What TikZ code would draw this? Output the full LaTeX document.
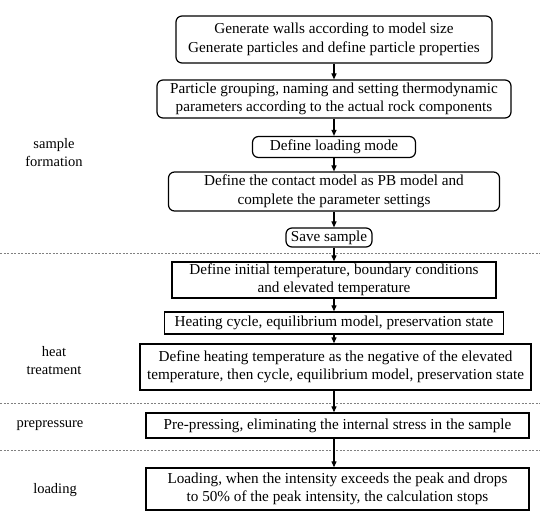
\documentclass[tikz,border=0pt]{standalone}
\usepackage{fontspec}
\setmainfont{Liberation Serif}
\usetikzlibrary{arrows.meta}
\begin{document}
\begin{tikzpicture}[x=1pt,y=-1pt,
  every node/.style={font=\fontsize{15.2}{18.5}\selectfont, align=center, inner sep=0pt},
  rbox/.style={draw, line width=1.2pt, rounded corners=6pt},
  sbox/.style={draw, line width=1.3pt},
  arr/.style={line width=1.1pt, -{Triangle[length=6pt,width=5pt]}},
  sep/.style={draw=gray, line width=0.7pt, dash pattern=on 2pt off 1.5pt},
  lab/.style={font=\fontsize{14.5}{18}\selectfont}]
\useasboundingbox (0,0) rectangle (550,528);
% sample formation
\node[rbox, minimum width=316pt, minimum height=47pt] (b1) at (334,39.5)
  {Generate walls according to model size\\Generate particles and define particle properties};
\node[rbox, minimum width=354pt, minimum height=38pt] (b2) at (334,99)
  {Particle grouping, naming and setting thermodynamic\\parameters according to the actual rock components};
\node[rbox, minimum width=163pt, minimum height=21pt] (b3) at (334,147)
  {Define loading mode};
\node[rbox, minimum width=331pt, minimum height=39pt] (b4) at (334,191.5)
  {Define the contact model as PB model and\\complete the parameter settings};
\node[rbox, minimum width=86pt, minimum height=19pt] (b5) at (329,237.5)
  {Save sample};
% heat treatment
\node[sbox, minimum width=324pt, minimum height=36pt] (b6) at (334,280)
  {Define initial temperature, boundary conditions\\and elevated temperature};
\node[sbox, minimum width=339pt, minimum height=22pt] (b7) at (334,323)
  {Heating cycle, equilibrium model, preservation state};
\node[sbox, minimum width=391pt, minimum height=46pt] (b8) at (335.5,367)
  {Define heating temperature as the negative of the elevated\\temperature, then cycle, equilibrium model, preservation state};
% prepressure
\node[sbox, minimum width=383pt, minimum height=25pt] (b9) at (337.5,425.5)
  {Pre-pressing, eliminating the internal stress in the sample};
% loading
\node[sbox, minimum width=383pt, minimum height=42pt] (b10) at (337.5,489)
  {Loading, when the intensity exceeds the peak and drops\\to 50\% of the peak intensity, the calculation stops};
% labels
\node[lab] (l1) at (54,153) {sample\\formation};
\node[lab] (l2) at (54,361) {heat\\treatment};
\node[lab] (l3) at (50,425.5) {prepressure};
\node[lab] (l4) at (55,490) {loading};
% separators
\coordinate (s1a) at (0,253); \coordinate (s1b) at (540,253);
\coordinate (s2a) at (0,403); \coordinate (s2b) at (540,403);
\coordinate (s3a) at (0,450); \coordinate (s3b) at (540,450);
\draw[sep] (s1a) -- (s1b);
\draw[sep] (s2a) -- (s2b);
\draw[sep] (s3a) -- (s3b);
% arrows
\draw[arr] (b1) -- (b2);
\draw[arr] (b2) -- (b3);
\draw[arr] (b3) -- (b4);
\draw[arr] (b4) -- (b4 |- b5.north);
\draw[arr] (b5.south -| b6) -- (b6);
\draw[arr] (b6) -- (b7);
\draw[arr] (b7) -- (b7 |- b8.north);
\draw[arr] (b8.south -| b7) -- (b7 |- b9.north);
\draw[arr] (b9.south -| b7) -- (b7 |- b10.north);
\end{tikzpicture}
\end{document}
